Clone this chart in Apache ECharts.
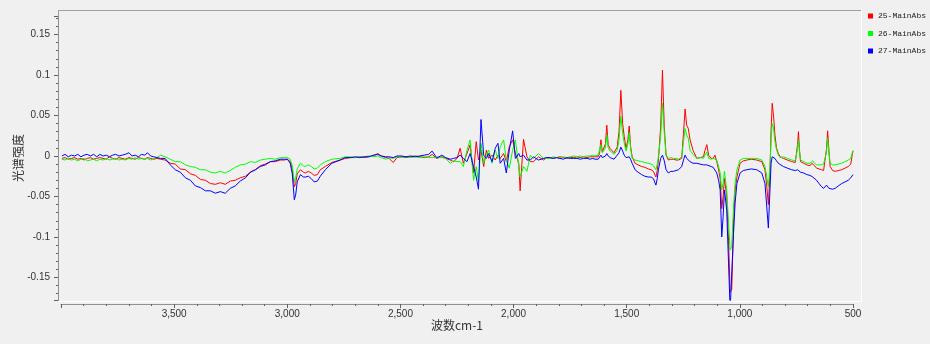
<!DOCTYPE html>
<html>
<head>
<meta charset="utf-8">
<script src="https://cdn.jsdelivr.net/npm/echarts@6/dist/echarts.min.js"></script>
<style>
html,body{margin:0;padding:0;background:#f0f0f0;}
#chart{width:930px;height:344px;}
</style>
</head>
<body>
<div id="chart"></div>
<script>
// Wavenumbers (cm-1), shared by all series
const wavenumbers = [
  3996,3982,3968,3954,3940,3926,3912,3898,3884,3870,3856,3842,3828,3814,3800,3786,3772,3758,3744,3730,3716,3700,3686,3672,3658,3644,3630,3618,3604,3590,3576,3560,
  3540,3517,3495,3473,3450,3428,3406,3384,3362,3340,3318,3296,3274,3252,3230,3208,3185,3163,3141,3119,3097,3075,3053,3031,3012,
  3000,2987,2978,2969,2963,2956,2942,2929,2920,2907,2894,2881,2867,2854,2832,2803,2766,
  2744,2720,2700,2680,2660,2640,2620,2600,2585,2565,2550,2532,2515,2495,2475,2455,2435,2415,2395,2375,2360,2340,
  2330,2317,2300,2280,2265,2250,2236,2222,2206,2192,2177,2165,2155,2144,2132,2120,2110,2095,2081,2069,2059,2044,2032,2019,2004,1992,1977,1971,1956,1941,1926,1912,1890,1867,1855,
  1840,1825,1810,1795,1780,1765,1750,1735,1720,1705,1690,1675,1662,1650,1640,1626,
  1620,1614,1608,1604,1594,1588,1582,1573,1556,1542,1534,1526,1518,1511,1503,1495,1489,1483,1476,1463,1450,1434,1420,1405,1392,1382,1371,1365,1360,1350,1342,1334,1326,1316,1305,1294,1282,1271,1257,1249,1242,1235,1228,1220,1207,1190,1176,
  1161,1154,1146,1138,1127,1118,1110,1102,1094,1087,1080,1074,1068,1058,1050,1043,1036,1028,1021,1013,999,985,969,950,925,903,889,881,874,867,862,857,851,845,838,830,
  822,808,790,771,755,749,745,741,737,732,718,704,690,682,678,670,661,650,639,630,624,617,612,606,601,590,579,565,550,535,521,510,503,500
];
// 25-MainAbs
const abs25 = [
  -0.003,-0.002,-0.004,-0.003,-0.002,-0.004,-0.003,-0.005,-0.003,-0.002,-0.004,-0.003,-0.002,-0.003,-0.004,-0.001,-0.003,-0.004,-0.002,-0.003,-0.004,-0.002,-0.003,-0.004,-0.002,-0.003,-0.004,-0.002,-0.003,-0.004,-0.003,-0.004,
  -0.005,-0.009,-0.010,-0.016,-0.017,-0.022,-0.024,-0.029,-0.030,-0.034,-0.035,-0.033,-0.035,-0.031,-0.030,-0.027,-0.025,-0.020,-0.017,-0.012,-0.010,-0.007,-0.007,-0.005,-0.005,
  -0.004,-0.007,-0.016,-0.038,-0.034,-0.022,-0.017,-0.020,-0.021,-0.019,-0.021,-0.024,-0.023,-0.017,-0.013,-0.008,-0.005,
  -0.003,-0.002,-0.002,-0.001,-0.002,-0.001,0.000,0.003,0.000,-0.002,-0.003,-0.008,-0.002,-0.001,-0.002,-0.001,0.000,-0.001,-0.002,-0.001,0.002,-0.003,
  -0.002,-0.001,-0.003,-0.005,-0.007,-0.003,0.0095,-0.009,0.003,0.0136,-0.021,0.0177,-0.005,0.0074,-0.013,0.0074,-0.003,0.001,-0.005,0.001,-0.003,0.003,-0.007,0.0115,0.0198,0.003,-0.009,-0.043,0.0206,-0.001,-0.007,-0.007,-0.001,-0.005,-0.002,
  -0.002,-0.003,-0.002,-0.001,-0.002,-0.003,-0.002,-0.002,-0.001,-0.002,-0.001,-0.002,-0.001,-0.001,-0.001,-0.001,
  0.003,0.020,0.005,0.007,0.015,0.038,0.014,0.009,0.004,0.011,0.030,0.081,0.040,0.024,0.009,0.020,0.037,0.012,-0.001,-0.009,-0.011,-0.013,-0.014,-0.016,-0.017,-0.019,-0.026,-0.018,-0.005,0.036,0.106,0.036,0.001,-0.005,-0.004,-0.004,-0.005,-0.005,-0.003,0.028,0.058,0.038,0.034,0.020,0.007,-0.003,-0.002,
  -0.001,0.007,0.014,0.001,-0.003,-0.003,0.001,-0.007,-0.017,-0.028,-0.065,-0.050,-0.028,-0.050,-0.104,-0.168,-0.165,-0.083,-0.042,-0.026,-0.009,-0.006,-0.005,-0.004,-0.005,-0.007,-0.017,-0.038,-0.060,-0.021,0.032,0.065,0.049,0.026,0.010,0.003,
  -0.001,-0.003,-0.005,-0.007,-0.008,-0.009,0.014,0.030,0.009,-0.007,-0.009,-0.011,-0.012,-0.009,-0.007,-0.012,-0.015,-0.016,-0.017,-0.018,-0.019,0.009,0.031,0.005,-0.013,-0.018,-0.019,-0.018,-0.017,-0.015,-0.013,-0.010,0.002,0.006
];
// 26-MainAbs
const abs26 = [
  -0.004,-0.005,-0.003,-0.005,-0.004,-0.006,-0.004,-0.003,-0.006,-0.005,-0.004,-0.006,-0.004,-0.005,-0.003,-0.005,-0.004,-0.003,-0.005,-0.004,-0.005,-0.003,-0.004,-0.002,-0.004,-0.003,-0.004,-0.003,-0.005,-0.003,-0.002,0.001,
  -0.001,-0.004,-0.007,-0.007,-0.011,-0.013,-0.014,-0.017,-0.017,-0.020,-0.021,-0.019,-0.021,-0.018,-0.014,-0.011,-0.010,-0.007,-0.008,-0.005,-0.004,-0.003,-0.004,-0.002,-0.002,
  -0.002,-0.004,-0.012,-0.032,-0.027,-0.016,-0.009,-0.012,-0.013,-0.011,-0.013,-0.016,-0.015,-0.011,-0.007,-0.004,-0.003,
  -0.001,-0.001,-0.002,-0.001,-0.001,0.000,-0.001,0.000,-0.002,-0.004,-0.002,-0.003,-0.001,-0.002,-0.001,-0.002,-0.001,-0.002,-0.001,-0.002,-0.002,-0.002,
  -0.002,-0.002,-0.003,-0.009,-0.006,-0.007,-0.007,-0.013,0.007,0.0198,-0.030,-0.013,-0.032,0.0156,-0.009,0.001,0.0074,-0.009,0.0074,-0.003,0.0115,0.0198,-0.005,-0.015,0.0074,0.0198,-0.013,-0.026,-0.013,-0.019,0.001,-0.003,0.003,-0.003,-0.003,
  -0.003,-0.001,-0.002,-0.003,-0.001,-0.002,-0.001,0.000,-0.001,0.000,-0.001,0.000,0.000,0.001,0.000,0.001,
  0.002,0.014,0.004,0.005,0.010,0.026,0.010,0.006,0.002,0.007,0.020,0.049,0.028,0.016,0.006,0.015,0.029,0.010,-0.003,-0.005,-0.006,-0.007,-0.008,-0.009,-0.010,-0.012,-0.017,-0.010,-0.001,0.024,0.065,0.028,0.001,-0.003,-0.002,-0.003,-0.003,-0.004,-0.001,0.018,0.034,0.026,0.022,0.007,0.002,-0.003,-0.002,
  -0.003,0.001,0.005,-0.003,-0.004,-0.003,-0.001,-0.005,-0.013,-0.021,-0.042,-0.034,-0.019,-0.042,-0.083,-0.116,-0.112,-0.063,-0.034,-0.017,-0.005,-0.003,-0.003,-0.003,-0.003,-0.005,-0.013,-0.026,-0.038,-0.013,0.020,0.040,0.034,0.018,0.008,0.001,
  -0.002,-0.001,-0.003,-0.005,-0.006,-0.007,0.009,0.020,0.007,-0.005,-0.007,-0.009,-0.009,-0.007,-0.006,-0.009,-0.011,-0.011,-0.011,-0.010,-0.011,0.005,0.022,0.003,-0.009,-0.011,-0.011,-0.010,-0.009,-0.007,-0.005,-0.003,0.004,0.007
];
// 27-MainAbs
const abs27 = [
  0.000,0.002,-0.001,0.001,0.000,0.002,-0.001,0.001,0.002,0.000,0.002,-0.001,0.002,0.000,0.001,-0.001,0.001,0.002,0.000,0.001,0.002,0.004,0.000,0.001,-0.001,0.002,0.001,0.004,0.000,-0.001,-0.002,-0.003,
  -0.003,-0.011,-0.017,-0.020,-0.027,-0.030,-0.037,-0.039,-0.043,-0.043,-0.046,-0.044,-0.046,-0.040,-0.037,-0.031,-0.027,-0.020,-0.017,-0.013,-0.011,-0.007,-0.006,-0.004,-0.004,
  -0.004,-0.009,-0.022,-0.054,-0.048,-0.032,-0.023,-0.026,-0.026,-0.025,-0.028,-0.032,-0.031,-0.025,-0.017,-0.009,-0.005,
  -0.002,-0.002,-0.001,-0.002,-0.001,-0.001,0.001,0.002,0.000,-0.001,-0.001,-0.002,0.000,0.000,-0.001,0.000,-0.001,0.000,0.001,0.002,0.006,-0.002,
  -0.001,0.001,-0.002,-0.004,-0.003,-0.002,0.001,-0.003,-0.007,0.003,-0.013,-0.026,-0.041,0.045,0.001,-0.003,0.003,-0.007,0.0095,0.0156,-0.009,-0.003,-0.021,0.0074,0.031,-0.003,0.003,-0.001,0.001,-0.005,-0.005,-0.001,-0.005,-0.003,-0.002,
  -0.002,-0.003,-0.002,-0.003,-0.004,-0.002,-0.003,-0.003,-0.003,-0.004,-0.003,-0.003,-0.004,-0.003,-0.004,-0.004,
  -0.003,0.001,-0.002,-0.003,0.000,0.003,0.000,-0.002,-0.004,0.001,0.004,0.011,0.006,0.001,-0.002,0.000,-0.001,-0.004,-0.009,-0.017,-0.020,-0.023,-0.025,-0.026,-0.026,-0.028,-0.036,-0.028,-0.017,-0.003,0.001,-0.006,-0.017,-0.021,-0.019,-0.019,-0.018,-0.017,-0.013,-0.005,0.001,-0.003,-0.005,-0.007,-0.009,-0.009,-0.010,
  -0.011,-0.011,-0.011,-0.012,-0.013,-0.014,-0.015,-0.021,-0.030,-0.042,-0.100,-0.075,-0.042,-0.067,-0.132,-0.190,-0.190,-0.096,-0.058,-0.034,-0.021,-0.018,-0.017,-0.016,-0.017,-0.021,-0.034,-0.063,-0.089,-0.042,-0.009,-0.001,-0.003,-0.003,-0.006,-0.009,
  -0.011,-0.013,-0.015,-0.017,-0.018,-0.019,-0.017,-0.017,-0.018,-0.020,-0.021,-0.023,-0.024,-0.025,-0.026,-0.028,-0.030,-0.034,-0.038,-0.040,-0.042,-0.036,-0.036,-0.040,-0.042,-0.041,-0.040,-0.037,-0.034,-0.032,-0.030,-0.027,-0.025,-0.023
];
const seriesNames = ['25-MainAbs', '26-MainAbs', '27-MainAbs'];
const seriesColors = ['#ff0000', '#00ff00', '#0000ff'];
const seriesValues = [abs25, abs26, abs27];

const chart = echarts.init(document.getElementById('chart'), null, {renderer: 'canvas'});
const labelFont = 'Liberation Sans';
const option = {
  backgroundColor: '#f0f0f0',
  animation: false,
  grid: {left: 61, right: 77, top: 16, bottom: 44},
  graphic: [
    {type: 'line', silent: true, shape: {x1: 58, y1: 10.5, x2: 862, y2: 10.5}, style: {stroke: '#a0a0a0', lineWidth: 1}},
    {type: 'line', silent: true, shape: {x1: 58.5, y1: 10, x2: 58.5, y2: 301}, style: {stroke: '#a0a0a0', lineWidth: 1}},
    {type: 'line', silent: true, shape: {x1: 861.5, y1: 10, x2: 861.5, y2: 302}, style: {stroke: '#ffffff', lineWidth: 1}},
    {type: 'line', silent: true, shape: {x1: 58, y1: 301.5, x2: 862, y2: 301.5}, style: {stroke: '#ffffff', lineWidth: 1}}
  ],
  legend: {
    orient: 'vertical',
    left: 868, top: 11,
    padding: 0,
    icon: 'rect',
    itemWidth: 5, itemHeight: 5,
    itemGap: 7.5,
    textStyle: {fontFamily: 'Liberation Mono', fontSize: 8, lineHeight: 10, color: '#222'},
    data: seriesNames
  },
  xAxis: {
    type: 'value',
    min: 500, max: 4000, interval: 500,
    inverse: true,
    offset: 4,
    name: '波数cm-1',
    nameLocation: 'middle',
    nameGap: 15,
    nameMoveOverlap: false,
    nameTextStyle: {fontFamily: 'Noto Sans CJK SC', fontSize: 12, color: '#333'},
    axisLine: {show: true, onZero: false, lineStyle: {color: '#909090', width: 1}},
    axisTick: {show: true, length: 4, lineStyle: {color: '#606060'}},
    minorTick: {show: true, splitNumber: 5, length: 2, lineStyle: {color: '#606060'}},
    splitLine: {show: false},
    axisLabel: {
      showMaxLabel: false,
      margin: 5,
      fontFamily: labelFont, fontSize: 10, color: '#333',
      formatter: v => v.toLocaleString('en-US')
    }
  },
  yAxis: {
    type: 'value',
    min: -0.1778, max: 0.1728,
    splitNumber: 7,
    offset: 3,
    name: '光谱强度',
    nameLocation: 'middle',
    nameGap: 34,
    nameMoveOverlap: false,
    nameTextStyle: {fontFamily: 'Noto Sans CJK SC', fontSize: 12, color: '#333'},
    axisLine: {show: true, onZero: false, lineStyle: {color: '#909090', width: 1}},
    axisTick: {show: true, length: 4, lineStyle: {color: '#606060'}},
    minorTick: {show: true, splitNumber: 5, length: 2, lineStyle: {color: '#606060'}},
    splitLine: {show: false},
    axisLabel: {
      showMinLabel: false, showMaxLabel: false,
      margin: 8,
      fontFamily: labelFont, fontSize: 10, color: '#333'
    }
  },
  series: seriesNames.map((name, i) => ({
    name: name,
    type: 'line',
    showSymbol: false,
    symbol: 'none',
    clip: true,
    color: seriesColors[i],
    lineStyle: {width: 1, color: seriesColors[i]},
    data: wavenumbers.map((w, k) => [w, seriesValues[i][k]])
  }))
};
chart.setOption(option);
</script>
</body>
</html>
